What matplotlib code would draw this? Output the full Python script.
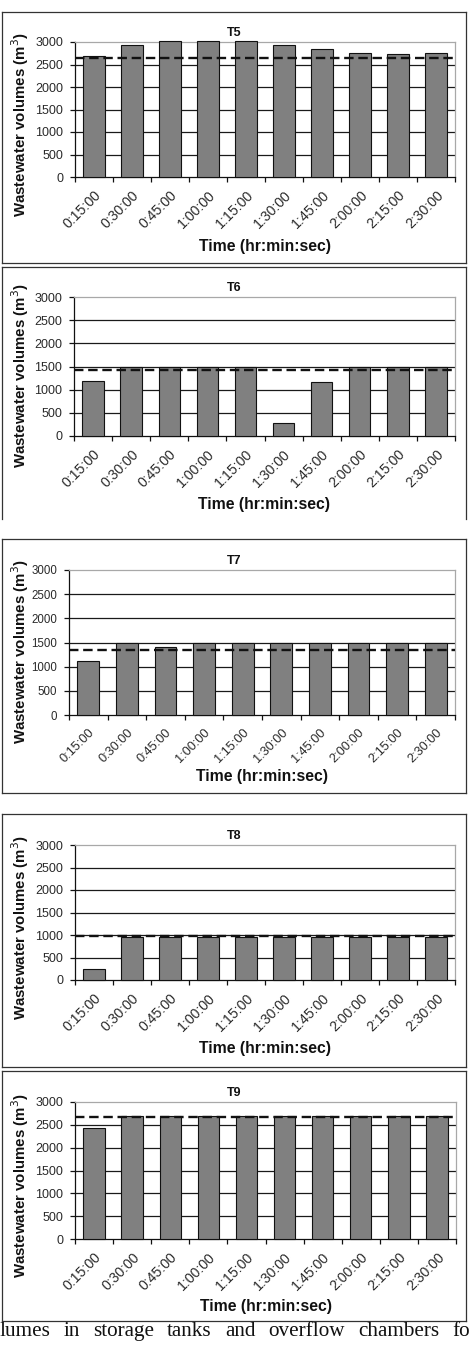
import matplotlib
matplotlib.use("Agg")
import matplotlib.pyplot as plt
from matplotlib.lines import Line2D
from matplotlib.transforms import ScaledTranslation

# ---- data ----
times = ['0:15:00', '0:30:00', '0:45:00', '1:00:00', '1:15:00',
         '1:30:00', '1:45:00', '2:00:00', '2:15:00', '2:30:00']
names = ['T5', 'T6', 'T7', 'T8', 'T9']
t5 = [2680, 2940, 3020, 3020, 3020, 2925, 2835, 2745, 2730, 2760]
t6 = [1190, 1490, 1490, 1490, 1490, 280, 1170, 1490, 1490, 1490]
t7 = [1120, 1490, 1400, 1490, 1490, 1490, 1490, 1490, 1490, 1490]
t8 = [250, 950, 950, 950, 950, 950, 950, 950, 950, 950]
t9 = [2430, 2690, 2690, 2690, 2690, 2690, 2690, 2690, 2690, 2690]
series = [t5, t6, t7, t8, t9]
capacity = [2655, 1425, 1345, 980, 2670]
yticks = [0, 500, 1000, 1500, 2000, 2500, 3000]
caption_words = ['lumes', 'in', 'storage', 'tanks', 'and', 'overflow',
                 'chambers', 'fo']

W, H = 474, 1356
fig = plt.figure(figsize=(W / 100, H / 100), dpi=100)
plt.rcParams['font.family'] = ['Liberation Sans', 'DejaVu Sans']

# axes boxes in pixels: left, top, right, bottom
ax_boxes = [(75, 42, 455, 177), (74, 297, 455, 436), (69, 570, 455, 715),
            (75, 845, 455, 980), (75, 1102, 456, 1239)]
# label placement (pixels): xlabel center offset below axes, ylabel center y
xlab_off = [69, 69, 62, 69, 67]
ylab_y = [125, 376, 652, 928, 1186]
xt_fs = [10.2, 10.2, 9.2, 10.2, 10.2]
yt_fs = [9, 9, 8.3, 9, 9]
# panel frames: top, bottom, draw_bottom
frames = [(12, 263, True), (267, 519, False), (539, 793, True),
          (814, 1067, True), (1071, 1321, True)]


def fx(x):
    return x / W


def fy(y):
    return 1 - y / H


shift = ScaledTranslation(-3 / 100, 0, fig.dpi_scale_trans)

for i, ((l, t, r, b), name, vals, cap) in enumerate(
        zip(ax_boxes, names, series, capacity)):
    ax = fig.add_axes([fx(l), fy(b), (r - l) / W, (b - t) / H])
    x = list(range(len(times)))
    bars = ax.bar(x, vals, width=0.56, color='#808080', edgecolor='#111111',
                  linewidth=0.8, zorder=3)
    for p in bars:
        p.set_clip_on(False)
    ax.axhline(cap, color='#111111', linewidth=1.7, dashes=(4, 2), zorder=4)
    ax.set_xlim(-0.5, len(times) - 0.5)
    ax.set_ylim(0, 3000)
    ax.set_yticks(yticks)
    ax.set_yticklabels([str(v) for v in yticks], fontsize=yt_fs[i],
                       color='#2a2a2a')
    for v in yticks[1:-1]:
        ax.axhline(v, color='#1a1a1a', linewidth=0.9, zorder=1)
    # category ticks at boundaries
    ax.set_xticks([k - 0.5 for k in range(len(times) + 1)])
    ax.set_xticklabels([])
    ax.set_xticks(x, minor=True)
    ax.set_xticklabels(times, minor=True, fontsize=xt_fs[i], color='#2a2a2a',
                       rotation=45, ha='right', rotation_mode='anchor')
    for lab in ax.get_xticklabels(minor=True):
        lab.set_transform(lab.get_transform() + shift)
    ax.tick_params(axis='x', which='minor', length=0, pad=8)
    ax.tick_params(axis='x', which='major', length=3.6, width=0.9,
                   direction='out', color='#111111')
    ax.tick_params(axis='y', length=3.6, width=0.9, direction='out',
                   color='#111111', pad=5)
    for s in ['top', 'right']:
        ax.spines[s].set_color('#a8a8a8')
        ax.spines[s].set_linewidth(0.9)
    for s in ['left', 'bottom']:
        ax.spines[s].set_color('#111111')
        ax.spines[s].set_linewidth(0.9)
    fig.text(fx(234), fy(t - 9), name, fontsize=9, fontweight='bold',
             color='#111111', ha='center', va='center')
    ax.set_xlabel('Time (hr:min:sec)', fontsize=11.3, fontweight='bold',
                  color='#111111')
    ax.xaxis.set_label_coords(0.5, -xlab_off[i] / (b - t))
    ax.xaxis.label.set_va('center')
    ax.set_ylabel('Wastewater volumes (m$^3$)', fontsize=10.8,
                  fontweight='bold', color='#111111')
    ax.yaxis.set_label_coords((20 - l) / (r - l), (b - ylab_y[i]) / (b - t))
    ax.yaxis.label.set_va('center')

# panel frames
for (top, bot, draw_bottom) in frames:
    xl, xr = 1.5, 466
    kw = dict(color='#333333', linewidth=0.9)
    fig.add_artist(Line2D([fx(xl), fx(xr)], [fy(top), fy(top)], **kw))
    fig.add_artist(Line2D([fx(xl), fx(xl)], [fy(top), fy(bot)], **kw))
    fig.add_artist(Line2D([fx(xr), fx(xr)], [fy(top), fy(bot)], **kw))
    if draw_bottom:
        fig.add_artist(Line2D([fx(xl), fx(xr)], [fy(bot), fy(bot)], **kw))

# justified caption line (cut off on both sides as in the source page)
renderer = fig.canvas.get_renderer()
texts = [fig.text(0, fy(1336), w, fontsize=15.2, family=['Liberation Serif'],
                  color='#111111', ha='left', va='baseline')
         for w in caption_words]
widths = [tx.get_window_extent(renderer).width for tx in texts]
start, last_start = 0.0, 452.0
gap = (last_start - start - sum(widths[:-1])) / (len(widths) - 1)
pos = start
for tx, w in zip(texts, widths):
    tx.set_x(fx(pos))
    pos += w + gap

fig.savefig('out.png', dpi=100)
